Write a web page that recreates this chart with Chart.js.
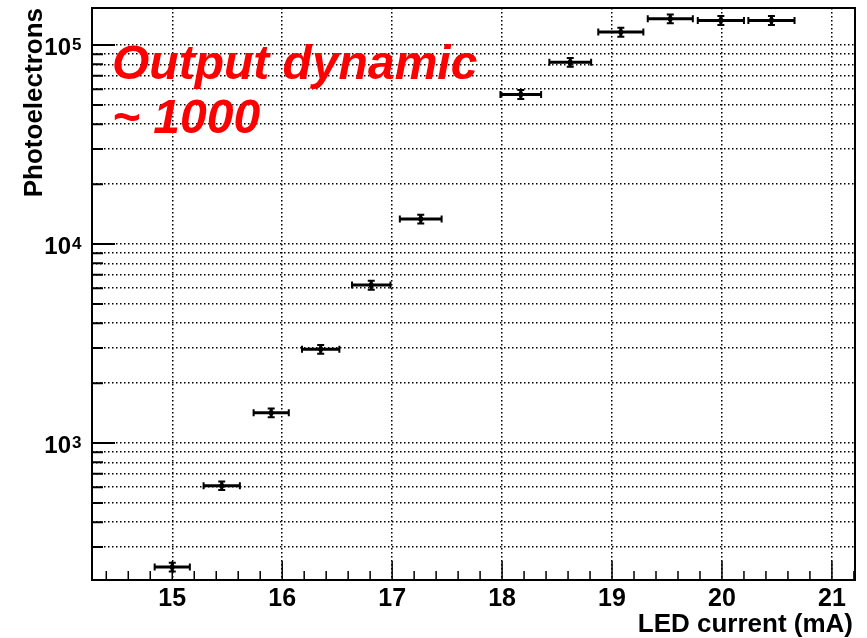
<!DOCTYPE html>
<html>
<head>
<meta charset="utf-8">
<script src="https://cdn.jsdelivr.net/npm/chart.js@4.4.1/dist/chart.umd.min.js"></script>
<style>
  html, body { margin: 0; padding: 0; background: #fff; }
  canvas { display: block; }
</style>
</head>
<body>
<canvas id="myChart" width="867" height="638"></canvas>
<script>
const current = [15.00, 15.45, 15.90, 16.35, 16.81, 17.26, 18.17, 18.62, 19.08, 19.53, 19.99, 20.45];
const currentErr = [0.16, 0.165, 0.16, 0.17, 0.175, 0.19, 0.185, 0.19, 0.205, 0.205, 0.21, 0.21];
const photoelectrons = [238, 610, 1420, 2960, 6220, 13360, 56500, 81900, 116200, 135500, 133000, 133000];
const photoelectronsErr = [12, 30, 72, 150, 320, 680, 2900, 4200, 6000, 7000, 6800, 6800];

const xTickLabels = [15, 16, 17, 18, 19, 20, 21];
const yTickPowers = [3, 4, 5];
const yGrid = [300, 400, 500, 600, 700, 800, 900, 1000, 2000, 3000, 4000, 5000, 6000, 7000, 8000, 9000,
  10000, 20000, 30000, 40000, 50000, 60000, 70000, 80000, 90000, 100000];

const FONT = '"Liberation Sans", Arial, Helvetica, sans-serif';

const points = current.map((x, i) => ({ x: x, y: photoelectrons[i] }));

// error bars + ROOT style frame, ticks and labels
const rootStyle = {
  id: 'rootStyle',
  afterDatasetsDraw(chart) {
    const ctx = chart.ctx;
    const xs = chart.scales.x, ys = chart.scales.y;
    ctx.save();
    ctx.strokeStyle = '#000';
    ctx.lineWidth = 3;
    ctx.lineCap = 'butt';
    current.forEach((x, i) => {
      const px = xs.getPixelForValue(x);
      const py = ys.getPixelForValue(photoelectrons[i]);
      const x0 = xs.getPixelForValue(x - currentErr[i]);
      const x1 = xs.getPixelForValue(x + currentErr[i]);
      const y0 = ys.getPixelForValue(photoelectrons[i] - photoelectronsErr[i]);
      const y1 = ys.getPixelForValue(photoelectrons[i] + photoelectronsErr[i]);
      ctx.beginPath();
      ctx.moveTo(x0, py); ctx.lineTo(x1, py);
      ctx.moveTo(px, y0); ctx.lineTo(px, y1);
      ctx.stroke();
      ctx.lineWidth = 2;
      ctx.beginPath();
      ctx.moveTo(x0, py - 3.5); ctx.lineTo(x0, py + 3.5);
      ctx.moveTo(x1, py - 3.5); ctx.lineTo(x1, py + 3.5);
      ctx.moveTo(px - 3.5, y0); ctx.lineTo(px + 3.5, y0);
      ctx.moveTo(px - 3.5, y1); ctx.lineTo(px + 3.5, y1);
      ctx.stroke();
      ctx.lineWidth = 3;
    });
    ctx.restore();
  },
  afterDraw(chart) {
    const ctx = chart.ctx;
    const a = chart.chartArea;
    const xs = chart.scales.x, ys = chart.scales.y;
    ctx.save();
    ctx.strokeStyle = '#000';
    ctx.fillStyle = '#000';

    // frame
    ctx.lineWidth = 2;
    ctx.strokeRect(a.left, a.top, a.right - a.left, a.bottom - a.top);

    // x ticks (inside), major every 1, minor every 0.2
    ctx.lineWidth = 1.5;
    ctx.beginPath();
    for (let k = 72; k <= 106; k++) {
      const v = k / 5;
      if (v < xs.min || v > xs.max) continue;
      const p = xs.getPixelForValue(v);
      const len = (k % 5 === 0) ? 19 : 9;
      ctx.moveTo(p, a.bottom); ctx.lineTo(p, a.bottom - len);
    }
    ctx.stroke();

    // y ticks (inside)
    ctx.lineWidth = 2;
    ctx.beginPath();
    yGrid.forEach(v => {
      const p = ys.getPixelForValue(v);
      const major = yTickPowers.some(e => Math.pow(10, e) === v);
      ctx.moveTo(a.left, p); ctx.lineTo(a.left + (major ? 23 : 11), p);
    });
    ctx.stroke();

    // x tick labels
    ctx.font = 'bold 25px ' + FONT;
    ctx.textAlign = 'center';
    ctx.textBaseline = 'alphabetic';
    xTickLabels.forEach(v => {
      ctx.fillText(String(v), xs.getPixelForValue(v), 606);
    });

    // y tick labels 10^n
    yTickPowers.forEach(e => {
      const p = ys.getPixelForValue(Math.pow(10, e));
      ctx.font = 'bold 24px ' + FONT;
      ctx.textAlign = 'right';
      ctx.fillText('10', 71, p + 10);
      ctx.font = 'bold 17px ' + FONT;
      ctx.textAlign = 'left';
      ctx.fillText(String(e), 72, p + 5);
    });

    // axis titles
    ctx.font = 'bold 26px ' + FONT;
    ctx.textAlign = 'right';
    ctx.fillText('LED current (mA)', 853, 632);
    ctx.save();
    ctx.translate(42, a.top);
    ctx.rotate(-Math.PI / 2);
    ctx.textAlign = 'right';
    ctx.fillText('Photoelectrons', 0, 0);
    ctx.restore();

    // annotation
    ctx.fillStyle = '#ff0000';
    ctx.font = 'italic bold 48px ' + FONT;
    ctx.textAlign = 'left';
    ctx.fillText('Output dynamic', 112, 79);
    ctx.fillText('~ 1000', 112, 133);
    ctx.restore();
  }
};

const myChart = new Chart(document.getElementById('myChart').getContext('2d'), {
  type: 'scatter',
  data: {
    datasets: [{
      label: 'Photoelectrons',
      data: points,
      pointRadius: 2.5,
      pointStyle: 'rect',
      backgroundColor: '#000',
      borderColor: '#000',
      showLine: false
    }]
  },
  options: {
    responsive: false,
    animation: false,
    layout: { padding: { top: 8, right: 12, left: 0, bottom: 0 } },
    plugins: { legend: { display: false }, tooltip: { enabled: false } },
    scales: {
      x: {
        type: 'linear',
        min: 14.27,
        max: 21.21,
        afterBuildTicks: s => { s.ticks = xTickLabels.map(v => ({ value: v })); },
        afterFit: s => { s.height = 58; },
        ticks: { display: false },
        grid: { color: '#000', lineWidth: 1.5, drawTicks: false },
        border: { display: false, dash: [1.5, 2.5] }
      },
      y: {
        type: 'logarithmic',
        min: 205,
        max: 153500,
        afterBuildTicks: s => { s.ticks = yGrid.map(v => ({ value: v })); },
        afterFit: s => { s.width = 92; },
        ticks: { display: false },
        grid: { color: '#000', lineWidth: 1.5, drawTicks: false },
        border: { display: false, dash: [1.5, 2.5] }
      }
    }
  },
  plugins: [rootStyle]
});
</script>
</body>
</html>
